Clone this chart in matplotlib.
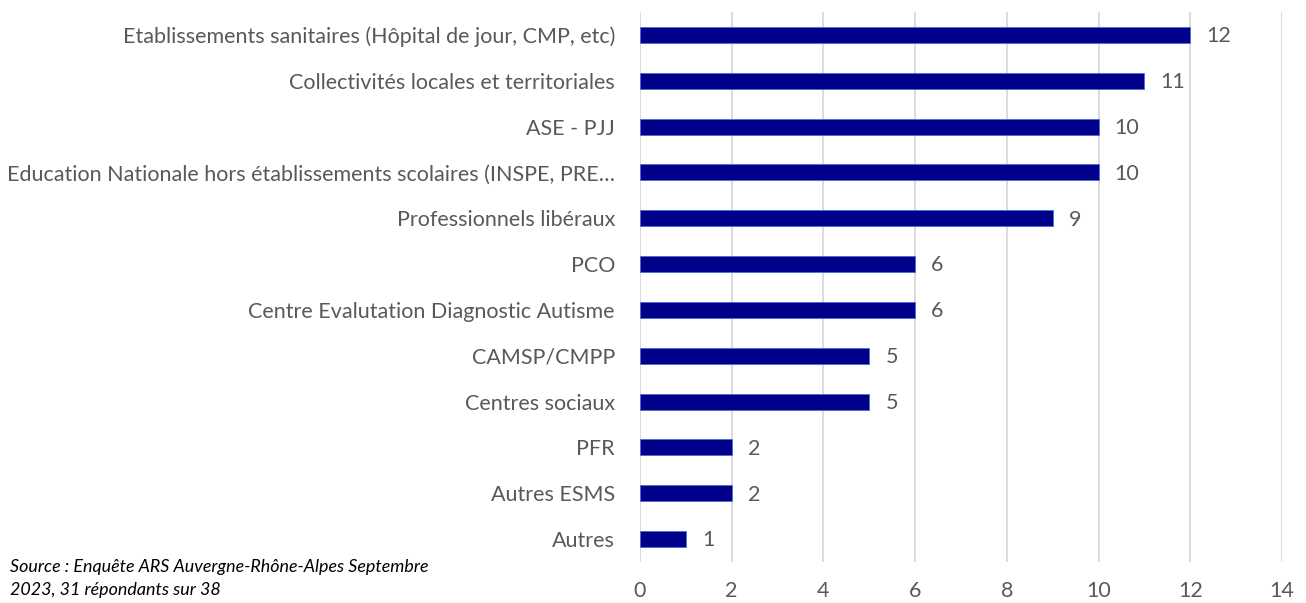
import matplotlib.pyplot as plt

categories = [
    "Etablissements sanitaires (Hôpital de jour, CMP, etc)",
    "Collectivités locales et territoriales",
    "ASE - PJJ",
    "Education Nationale hors établissements scolaires (INSPE, PRE…",
    "Professionnels libéraux",
    "PCO",
    "Centre Evalutation Diagnostic Autisme",
    "CAMSP/CMPP",
    "Centres sociaux",
    "PFR",
    "Autres ESMS",
    "Autres",
]
values = [12, 11, 10, 10, 9, 6, 6, 5, 5, 2, 2, 1]
xticks = [0, 2, 4, 6, 8, 10, 12, 14]

plt.rcParams['font.family'] = ['Lato', 'DejaVu Sans']
grey = '#595959'
fs = 15.5

fig = plt.figure(figsize=(13.06, 6.03), dpi=100)
ax = fig.add_axes([0.490, 0.068, 0.4916, 0.912])

pos = list(range(len(categories)))
ax.barh(pos, values, height=0.35, color='#00008B', edgecolor='#4a6fd0', linewidth=0.6, zorder=3)
for p, v in zip(pos, values):
    ax.text(v + 0.35, p + 0.03, str(v), va='center', ha='left', fontsize=fs, color=grey)

ax.set_yticks(pos)
ax.set_yticklabels(categories, fontsize=fs, color=grey)
ax.set_ylim(len(categories) - 0.5, -0.5)
ax.set_xlim(0, 14)
ax.set_xticks(xticks)
ax.set_xticklabels([str(t) for t in xticks], fontsize=fs, color=grey)
ax.tick_params(axis='both', length=0)
ax.tick_params(axis='y', pad=18)
ax.tick_params(axis='x', pad=14)
ax.grid(axis='x', color='#d9d9d9', linewidth=1.3, zorder=0)
for s in ax.spines.values():
    s.set_visible(False)

fig.text(0.008, 0.060, "Source : Enquête ARS Auvergne-Rhône-Alpes Septembre",
         fontsize=12.9, style='italic', color='black', va='center')
fig.text(0.008, 0.022, "2023, 31 répondants sur 38",
         fontsize=12.9, style='italic', color='black', va='center')

plt.savefig('out.png', dpi=100)
